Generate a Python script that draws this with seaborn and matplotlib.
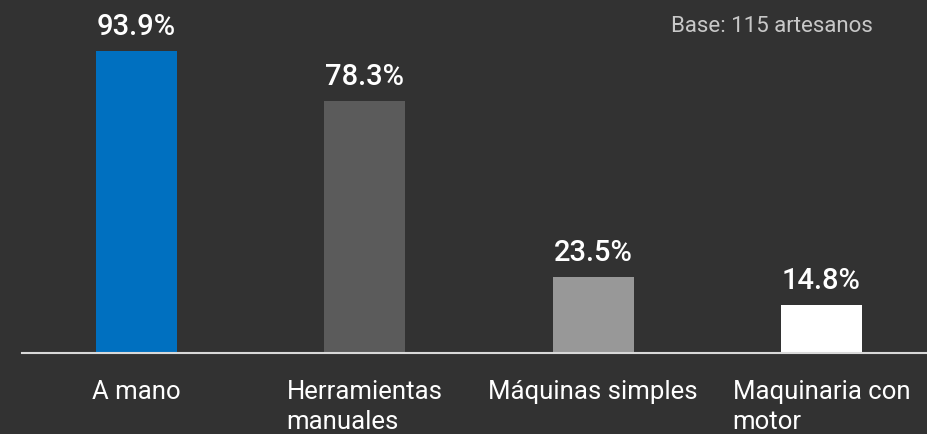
import matplotlib
matplotlib.use("Agg")
import matplotlib.pyplot as plt
import seaborn as sns
import pandas as pd

categories = ["A mano", "Herramientas\nmanuales", "Máquinas simples", "Maquinaria con\nmotor"]
values = [93.9, 78.3, 23.5, 14.8]
value_labels = ["93.9%", "78.3%", "23.5%", "14.8%"]
colors = ["#0070C0", "#5B5B5B", "#989898", "#FFFFFF"]
note = "Base: 115 artesanos"

BG = "#323232"
sns.set_theme(style="dark")
plt.rcParams["font.family"] = ["Roboto", "DejaVu Sans"]

df = pd.DataFrame({"cat": categories, "val": values})

fig = plt.figure(figsize=(9.27, 4.35), dpi=100, facecolor=BG)
ax = fig.add_axes([22 / 927, 1 - 354 / 435, 1 - 22 / 927, 354 / 435])
ax.set_facecolor(BG)

sns.barplot(data=df, x="cat", y="val", hue="cat", palette=colors, legend=False,
            width=0.355, saturation=1, linewidth=0, ax=ax)

ax.set_xlim(-0.5, 3.462)
ax.set_ylim(0, 354 / 3.216)

for c, lab in zip(ax.containers, value_labels):
    ax.bar_label(c, labels=[lab], padding=8, color="white", fontsize=21,
                 fontweight="medium")

ax.set_xlabel("")
ax.set_ylabel("")
ax.set_yticks([])
ax.tick_params(axis="x", length=0, pad=19, colors="white", labelsize=18.5)
for t in ax.get_xticklabels():
    t.set_multialignment("left")
    t.set_linespacing(1.28)

for s in ["top", "right", "left"]:
    ax.spines[s].set_visible(False)
ax.spines["bottom"].set_color("#D9D9D9")
ax.spines["bottom"].set_linewidth(1.5)
ax.grid(False)

fig.text(873 / 927, 1 - 32 / 435, note, ha="right", va="baseline",
         color="#C8C8C8", fontsize=16)

fig.savefig("out.png", dpi=100, facecolor=BG)
